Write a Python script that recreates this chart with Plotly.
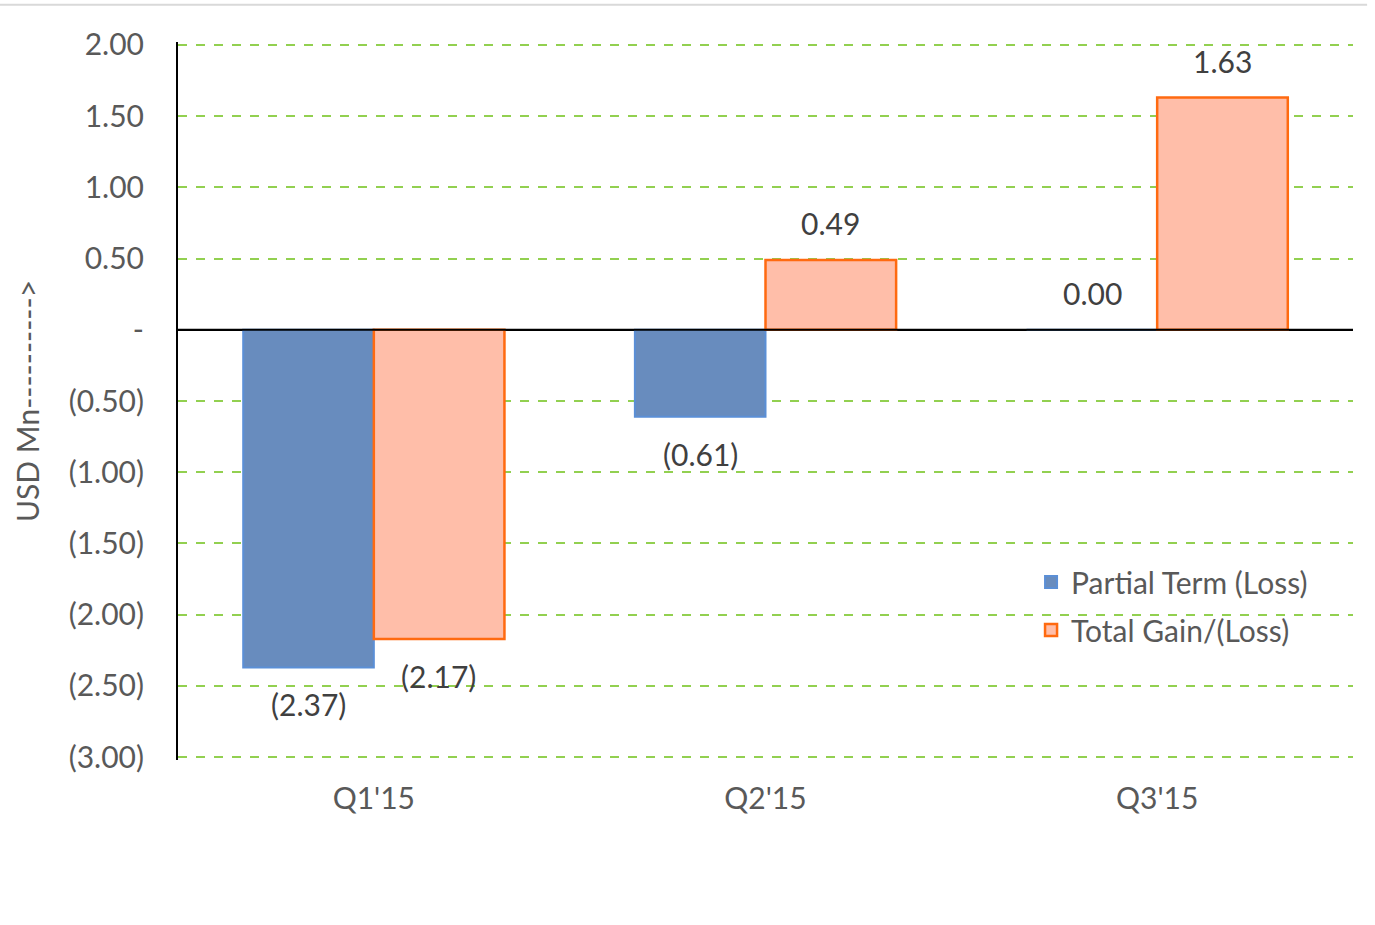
import plotly.graph_objects as go

categories = ["Q1'15", "Q2'15", "Q3'15"]
series_names = ["Partial Term (Loss)", "Total Gain/(Loss)"]
partial_term = [-2.37, -0.61, 0.00]
total_gain = [-2.17, 0.49, 1.63]
tick_values = [2.0, 1.5, 1.0, 0.5, 0.0, -0.5, -1.0, -1.5, -2.0, -2.5, -3.0]
tick_labels = ["2.00", "1.50", "1.00", "0.50", "-", "(0.50)", "(1.00)", "(1.50)",
               "(2.00)", "(2.50)", "(3.00)"]
y_title = "USD Mn---------->"


def fmt(v):
    return f"({abs(v):.2f})" if v < 0 else f"{v:.2f}"


FONT = "Lato, Open Sans, sans-serif"
AXIS_COLOR = "#595959"
LABEL_COLOR = "#404040"
FS = 30

fig = go.Figure()
fig.add_trace(go.Bar(
    x=categories, y=partial_term, name=series_names[0],
    marker=dict(color="#688CBE", line=dict(color="#5B8FD6", width=2)),
    legendgroup="a",
))
fig.add_trace(go.Bar(
    x=categories, y=total_gain, name=series_names[1],
    marker=dict(color="#FFBEA9", line=dict(color="#FF6A10", width=2.5)),
    legendgroup="b",
))

annotations = []
for series, shift in ((partial_term, -65), (total_gain, 65)):
    for c, v in zip(categories, series):
        annotations.append(dict(
            x=c, y=v, xref="x", yref="y", text=fmt(v), showarrow=False,
            xshift=shift, yshift=37 if v >= 0 else -37,
            font=dict(family=FONT, size=FS, color=LABEL_COLOR),
        ))

fig.update_layout(
    width=1375, height=925,
    margin=dict(l=178, r=22, t=42, b=165, autoexpand=False),
    paper_bgcolor="white", plot_bgcolor="white",
    barmode="group", bargap=0.333, bargroupgap=0,
    font=dict(family=FONT, size=FS, color=AXIS_COLOR),
    showlegend=True,
    legend=dict(
        x=0.726, y=0.284, xanchor="left", yanchor="top",
        bgcolor="rgba(0,0,0,0)", traceorder="grouped", tracegroupgap=6,
        font=dict(family=FONT, size=FS, color=AXIS_COLOR),
        itemwidth=30,
    ),
    annotations=annotations,
    shapes=[
        dict(type="line", xref="paper", yref="paper", x0=-0.152, x1=1.012,
             y0=1.0518, y1=1.0518, line=dict(color="#D9D9D9", width=2)),
        dict(type="line", xref="paper", yref="y", x0=0, x1=1, y0=0, y1=0,
             layer="above", line=dict(color="black", width=2)),
    ],
)
fig.update_xaxes(
    range=[-0.5, 2.5], showgrid=False, zeroline=False, showline=False,
    ticks="", ticklabelstandoff=18, automargin=False,
    tickfont=dict(family=FONT, size=FS, color=AXIS_COLOR),
)
fig.update_yaxes(
    range=[-3.02, 2.02], tickvals=tick_values, ticktext=tick_labels,
    showgrid=True, gridcolor="#92D050", griddash="dash", gridwidth=1.5,
    zeroline=True, zerolinecolor="black", zerolinewidth=2,
    showline=True, linecolor="black", linewidth=2,
    ticks="", ticklabelstandoff=26, automargin=False,
    tickfont=dict(family=FONT, size=FS, color=AXIS_COLOR),
    title=dict(text=y_title, standoff=20,
               font=dict(family=FONT, size=FS, color=AXIS_COLOR)),
)

fig.write_html("out.html", config={"displayModeBar": False},
               post_script="document.body.style.margin='0';")
